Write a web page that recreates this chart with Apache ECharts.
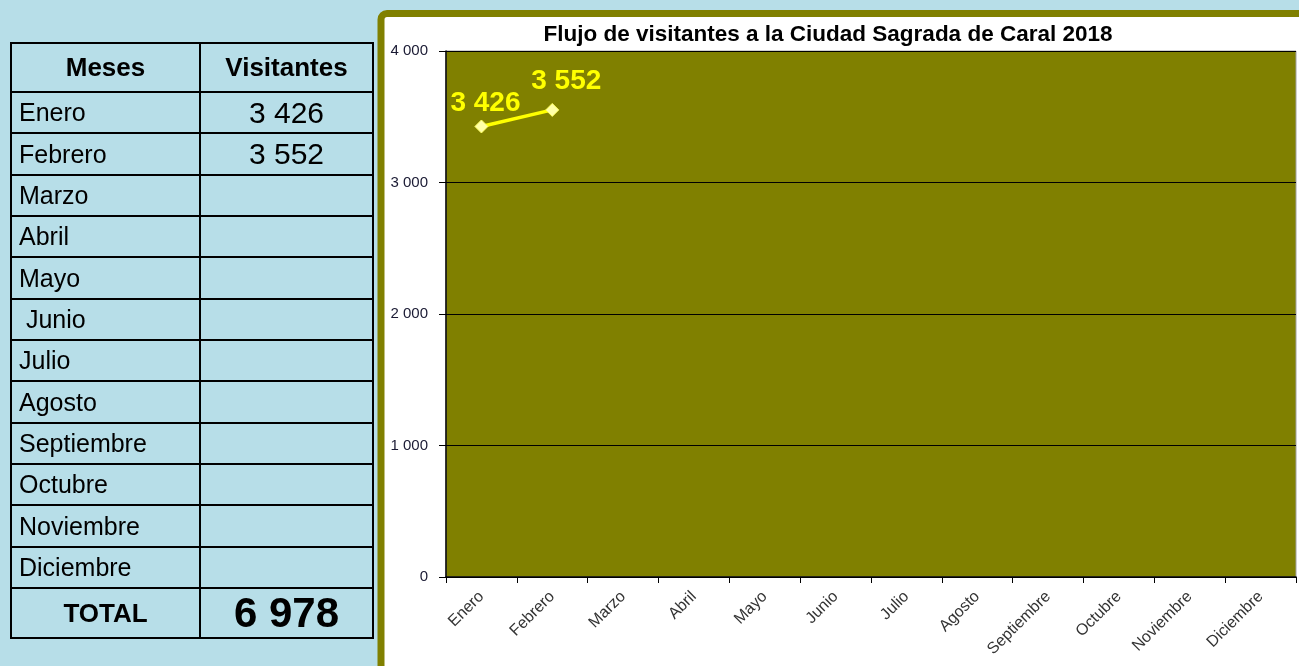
<!DOCTYPE html>
<html>
<head>
<meta charset="utf-8">
<script src="https://cdn.jsdelivr.net/npm/echarts@6/dist/echarts.min.js"></script>
<style>
  html, body { margin: 0; padding: 0; background: #b7dee8; }
  #chart { position: absolute; left: 0; top: 0; width: 1299px; height: 666px; }
  #tbl {
    position: absolute; left: 10px; top: 42px; z-index: 2;
    border-collapse: collapse; table-layout: fixed;
    font-family: Arial, 'Liberation Sans', sans-serif; color: #000;
  }
  #tbl td, #tbl th { border: 2.5px solid #000; padding: 0; overflow: hidden; white-space: pre; }
  #tbl th { height: 47px; font-size: 26px; font-weight: bold; text-align: center; }
  #tbl td { height: 39.35px; font-size: 25px; }
  #tbl td.m { padding-left: 7px; }
  #tbl td.v { text-align: center; font-size: 30px; }
  #tbl tr.total td { height: 48px; font-weight: bold; text-align: center; font-size: 26px; padding-left: 0; }
  #tbl tr.total td.v { font-size: 42px; }
</style>
</head>
<body>
<div id="chart"></div>
<table id="tbl">
  <colgroup><col style="width:189px"><col style="width:173px"></colgroup>
  <thead><tr><th>Meses</th><th>Visitantes</th></tr></thead>
  <tbody id="tbody"></tbody>
</table>
<script>
const months = ['Enero', 'Febrero', 'Marzo', 'Abril', 'Mayo', 'Junio', 'Julio',
  'Agosto', 'Septiembre', 'Octubre', 'Noviembre', 'Diciembre'];
const visitors = [3426, 3552, null, null, null, null, null, null, null, null, null, null];
const yMin = 0;
const yMax = 4000;
const yStep = 1000;

// desplazamiento de las etiquetas de datos (solo estilo)
const labelOffsets = [[4, -2], [14, -8]];

const fmt = v => String(v).replace(/\B(?=(\d{3})+(?!\d))/g, ' ');

// tabla
const tbody = document.getElementById('tbody');
months.forEach((m, i) => {
  const tr = document.createElement('tr');
  const name = m === 'Junio' ? ' ' + m : m;
  tr.innerHTML = '<td class="m">' + name + '</td><td class="v">' +
    (visitors[i] == null ? '' : fmt(visitors[i])) + '</td>';
  tbody.appendChild(tr);
});
const total = visitors.reduce((s, v) => s + (v || 0), 0);
const trT = document.createElement('tr');
trT.className = 'total';
trT.innerHTML = '<td>TOTAL</td><td class="v">' + fmt(total) + '</td>';
tbody.appendChild(trT);

// gráfico
const chart = echarts.init(document.getElementById('chart'));
chart.setOption({
  backgroundColor: 'transparent',
  animation: false,
  textStyle: { fontFamily: 'Arial, Liberation Sans, sans-serif' },
  title: {
    text: 'Flujo de visitantes a la Ciudad Sagrada de Caral 2018',
    left: 823, top: 18, textAlign: 'center',
    textStyle: { fontSize: 22.5, fontWeight: 'bold', color: '#000' }
  },
  graphic: [{
    type: 'rect', z: -10,
    shape: { x: 381, y: 13.5, width: 1000, height: 700, r: 6 },
    style: { fill: '#fff', stroke: '#808000', lineWidth: 7 }
  }],
  grid: {
    left: 446, top: 51, right: 3, bottom: 89,
    show: true, backgroundColor: '#808000', borderColor: '#a0a0a0', borderWidth: 1
  },
  xAxis: {
    type: 'category',
    data: months,
    boundaryGap: true,
    axisLine: { lineStyle: { color: '#000', width: 1.5 } },
    axisTick: { show: true, length: 6, lineStyle: { color: '#000' } },
    axisLabel: { rotate: 45, margin: 17, fontSize: 16, color: '#333', interval: 0 }
  },
  yAxis: {
    type: 'value',
    min: yMin, max: yMax, interval: yStep,
    axisLine: { show: true, lineStyle: { color: '#000', width: 1.5 } },
    axisTick: { show: true, length: 7, lineStyle: { color: '#000' } },
    splitLine: { lineStyle: { color: '#000', width: 1 } },
    axisLabel: { margin: 18, fontSize: 15, color: '#1a1a33', formatter: fmt }
  },
  series: [{
    type: 'line',
    data: visitors.map((v, i) => ({
      value: v,
      label: labelOffsets[i] ? { offset: labelOffsets[i] } : undefined
    })),
    lineStyle: { color: '#ffff00', width: 3.5 },
    symbol: 'diamond',
    symbolSize: 13,
    itemStyle: { color: '#ffffa8', borderColor: '#ffff60', borderWidth: 1 },
    label: {
      show: true, position: 'top', distance: 0,
      fontSize: 28, fontWeight: 'bold', color: '#ffff00',
      formatter: p => fmt(p.value)
    }
  }]
});
</script>
</body>
</html>
